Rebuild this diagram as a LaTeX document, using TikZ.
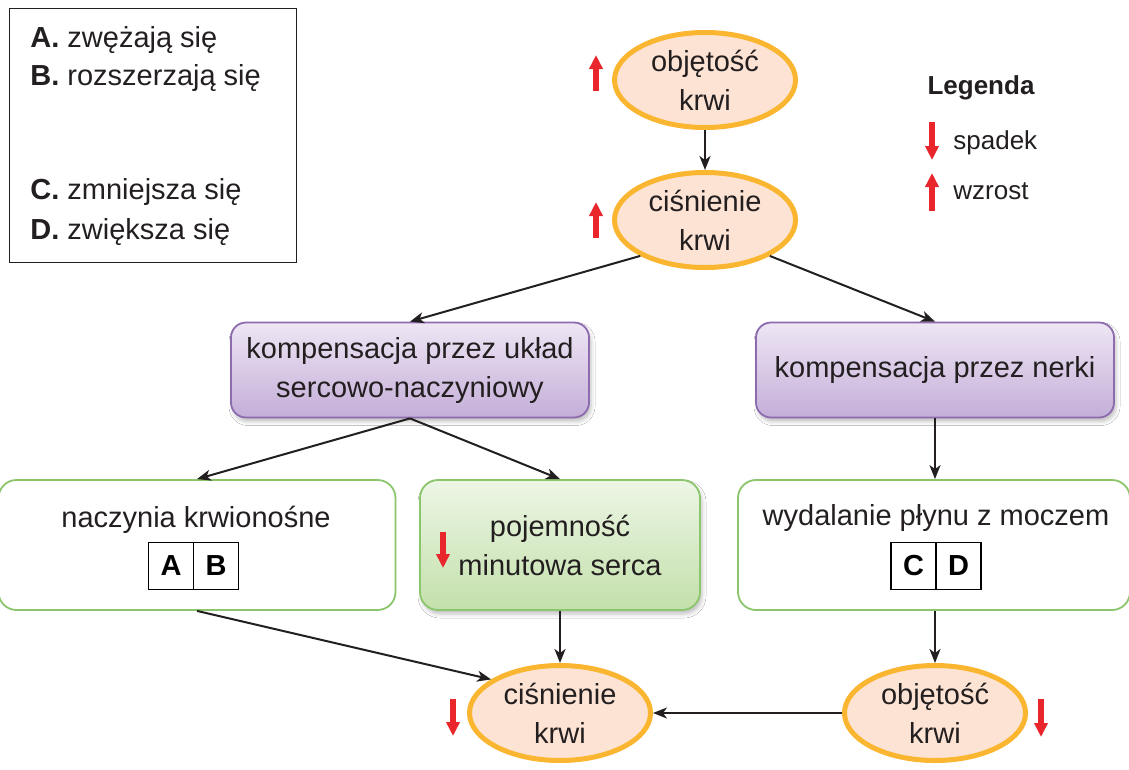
\documentclass[tikz,border=0pt]{standalone}
\usepackage{fontspec}
\setmainfont{Liberation Sans}
\usetikzlibrary{arrows.meta,shapes.geometric,shadows.blur}

\definecolor{ringline}{HTML}{FBB631}
\definecolor{ringfill}{HTML}{FDE3D3}
\definecolor{purpleline}{HTML}{8C6BAE}
\definecolor{purpletop}{HTML}{EEE6F4}
\definecolor{purplebot}{HTML}{C4AED8}
\definecolor{greenline}{HTML}{8CC66C}
\definecolor{greentop}{HTML}{EDF6E5}
\definecolor{greenbot}{HTML}{C3E0AB}
\definecolor{trendred}{HTML}{E8262B}
\definecolor{inkgray}{HTML}{231F20}

\begin{document}
\begin{tikzpicture}[x=1pt, y=-1pt, thick, text=inkgray, font=\fontsize{29}{39}\selectfont]

		\tikzstyle{ring}=[ellipse, draw=ringline, line width=5pt, fill=ringfill, minimum width=181pt, minimum height=95pt, align=center, inner sep=0pt]
		\tikzstyle{comp}=[rectangle, rounded corners=15pt, draw=purpleline, line width=1.8pt, top color=purpletop, bottom color=purplebot, minimum width=358pt, minimum height=95pt, align=center, blur shadow={shadow xshift=2pt, shadow yshift=-4pt, shadow blur radius=4pt, shadow opacity=25}]
		\tikzstyle{effect}=[rectangle, rounded corners=18pt, draw=greenline, line width=1.8pt, fill=white, minimum width=397pt, minimum height=130pt]
		\tikzstyle{effectshade}=[effect, top color=greentop, bottom color=greenbot, align=center, blur shadow={shadow xshift=2pt, shadow yshift=-4pt, shadow blur radius=4pt, shadow opacity=25}]
		\tikzstyle{letter}=[rectangle, draw=black, line width=1.8pt, minimum width=45pt, minimum height=47pt, inner sep=0pt, outer sep=0pt, text=black, font=\fontsize{29}{37}\selectfont\bfseries]
		\tikzstyle{link}=[draw=inkgray, line width=2pt, -{Stealth[length=14pt, width=11pt, inset=4pt]}]
		\tikzstyle{trend}=[draw=trendred, line width=6pt, -{Triangle[width=13pt, length=14pt]}]
		\tikzstyle{keyline}=[anchor=base west, inner sep=0pt]

		\fill[white] (0,0) rectangle (1129,769);
		\useasboundingbox (0,0) rectangle (1129,769);

		% answer key
		\node[draw=inkgray, line width=1.5pt, minimum width=287pt, minimum height=254pt, inner sep=0pt] (key) at (153,135.5) {};
		\node[keyline] (ka) at (30,47)  {\textbf{A.} zwężają się};
		\node[keyline] (kb) at (30,85)  {\textbf{B.} rozszerzają się};
		\node[keyline] (kc) at (30,199) {\textbf{C.} zmniejsza się};
		\node[keyline] (kd) at (30,239) {\textbf{D.} zwiększa się};

		% legend
		\node[font=\fontsize{26}{32}\selectfont\bfseries] (leg) at (981,88) {Legenda};
		\node[keyline, font=\fontsize{26}{32}\selectfont] (lsp) at (953,149) {spadek};
		\node[keyline, font=\fontsize{26}{32}\selectfont] (lwz) at (953,199) {wzrost};

		\node[ring] (obj1) at (705,80)  {objętość\\krwi};
		\node[ring] (cis1) at (705,220) {ciśnienie\\krwi};

		\node[comp] (kuk) at (410,370) {kompensacja przez układ\\sercowo-naczyniowy};
		\node[comp] (kn)  at (935,370) {kompensacja przez nerki};

		\node[effect] (nk) at (197,545) {};
		\node (nkt) at (196,520) {naczynia krwionośne};
		\node[letter] (la) at (171,566) {A};
		\node[letter, anchor=west] (lb) at (la.east) {B};

		\node[effectshade, minimum width=280pt] (pms) at (560,545) {pojemność\\minutowa serca};

		\node[effect, minimum width=392pt] (wpm) at (934,545) {};
		\node (wpmt) at (936,518) {wydalanie płynu z moczem};
		\node[letter] (lc) at (913.5,566) {C};
		\node[letter, anchor=west] (ld) at (lc.east) {D};

		\node[ring] (cis2) at (560,713) {ciśnienie\\krwi};
		\node[ring] (obj2) at (935,713) {objętość\\krwi};

		% links
		\draw[link] (obj1) -- (cis1);
		\draw[link] (cis1.209) -- (kuk.north);
		\draw[link] (cis1.331) -- (kn.north);
		\draw[link] (kuk.south) -- (nk.north);
		\draw[link] (kuk.south) -- (pms.north);
		\draw[link] (kn.south) -- (kn.south |- wpm.north);
		\draw[link] (nk.south) -- (cis2.154);
		\draw[link] (pms) -- (cis2);
		\draw[link] (wpm.south -| obj2) -- (obj2);
		\draw[link] (obj2) -- (cis2);

		% trend marks
		\draw[trend] (596,91) -- (596,55);
		\draw[trend] (596,238) -- (596,202);
		\draw[trend] (443,532) -- (443,568);
		\draw[trend] (453,699) -- (453,736);
		\draw[trend] (1041,699) -- (1041,737);
		\draw[trend] (932,122) -- (932,160);
		\draw[trend] (932,211) -- (932,173);
\end{tikzpicture}
\end{document}
